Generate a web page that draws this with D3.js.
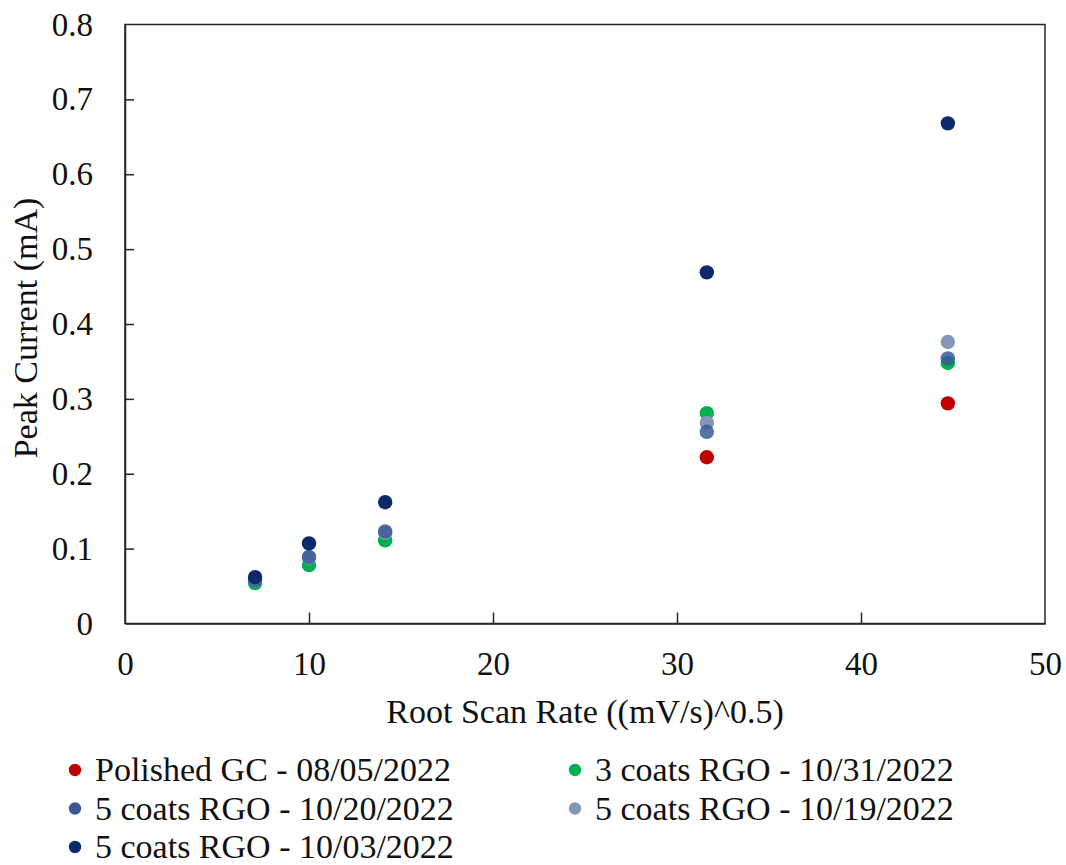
<!DOCTYPE html>
<html>
<head>
<meta charset="utf-8">
<script src="https://cdn.jsdelivr.net/npm/d3@7"></script>
<style>
  html, body { margin: 0; padding: 0; background: #fff; }
  svg { display: block; }
</style>
</head>
<body>
<svg id="chart" width="1066" height="865"></svg>
<script>
// Root scan rate values (sqrt of 50, 100, 200, 1000, 2000 mV/s)
const rootRates = [7.07, 10.0, 14.14, 31.62, 44.72];

// Series names, colours and peak currents (mA); null = not measured
const seriesNames = [
  "Polished GC - 08/05/2022",
  "3 coats RGO - 10/31/2022",
  "5 coats RGO - 10/20/2022",
  "5 coats RGO - 10/19/2022",
  "5 coats RGO - 10/03/2022"
];
const seriesColors = ["#C00000", "#00B050", "#3B5996", "#8497B8", "#0C2A6A"];
const polishedGC   = [null, null, null, 0.222, 0.294];
const coats3_1031  = [0.054, 0.078, 0.111, 0.281, 0.348];
const coats5_1020  = [0.058, 0.089, 0.123, 0.256, 0.354];
const coats5_1019  = [0.058, 0.088, 0.121, 0.268, 0.376];
const coats5_1003  = [0.062, 0.107, 0.162, 0.469, 0.668];
const seriesValues = [polishedGC, coats3_1031, coats5_1020, coats5_1019, coats5_1003];
// drawing order (later series sit on top)
const drawOrder = [0, 1, 3, 2, 4];

const xTicks = [0, 10, 20, 30, 40, 50];
const yTicks = [0, 0.1, 0.2, 0.3, 0.4, 0.5, 0.6, 0.7, 0.8];

const FONT = "'Liberation Serif', 'Times New Roman', serif";
const svg = d3.select("#chart");
const m = { left: 125, right: 1045, top: 24.5, bottom: 623.5 };

const x = d3.scaleLinear().domain([0, 50]).range([m.left, m.right]);
const y = d3.scaleLinear().domain([0, 0.8]).range([m.bottom, m.top]);

// plot frame
svg.append("rect")
  .attr("x", m.left).attr("y", m.top)
  .attr("width", m.right - m.left).attr("height", m.bottom - m.top)
  .attr("fill", "none").attr("stroke", "#262626").attr("stroke-width", 1.5);

// y axis with inward ticks
const yAxis = svg.append("g")
  .attr("transform", `translate(${m.left},0)`)
  .call(d3.axisLeft(y).tickValues(yTicks)
    .tickFormat(d => d === 0 ? "0" : d.toFixed(1))
    .tickSizeInner(-9).tickSizeOuter(0).tickPadding(32));

// x axis with inward ticks
const xAxis = svg.append("g")
  .attr("transform", `translate(0,${m.bottom})`)
  .call(d3.axisBottom(x).tickValues(xTicks)
    .tickFormat(d3.format("d"))
    .tickSizeInner(-11).tickSizeOuter(0).tickPadding(28));

[xAxis, yAxis].forEach(g => {
  g.select(".domain").attr("stroke", "#262626").attr("stroke-width", 1.5);
  g.selectAll(".tick line").attr("stroke", "#262626").attr("stroke-width", 1.5);
  g.selectAll(".tick text")
    .attr("font-family", FONT).attr("font-size", 33).attr("fill", "#111");
});
// no tick marks sitting on the frame corners
xAxis.selectAll(".tick").filter(d => d === 0 || d === 50).select("line").remove();
yAxis.selectAll(".tick").filter(d => d === 0 || d === 0.8).select("line").remove();

// axis titles
svg.append("text")
  .attr("x", (m.left + m.right) / 2).attr("y", 723)
  .attr("text-anchor", "middle")
  .attr("font-family", FONT).attr("font-size", 34).attr("fill", "#111")
  .text("Root Scan Rate ((mV/s)^0.5)");

svg.append("text")
  .attr("transform", `translate(37,${(m.top + m.bottom) / 2 + 4}) rotate(-90)`)
  .attr("text-anchor", "middle")
  .attr("font-family", FONT).attr("font-size", 34).attr("fill", "#111")
  .text("Peak Current (mA)");

// data markers
drawOrder.forEach(si => {
  const pts = rootRates.map((r, i) => ({ r, v: seriesValues[si][i] }))
    .filter(p => p.v !== null);
  svg.append("g").selectAll("circle")
    .data(pts).join("circle")
    .attr("cx", p => x(p.r)).attr("cy", p => y(p.v))
    .attr("r", 7.2)
    .attr("fill", seriesColors[si])
    .attr("fill-opacity", si === 2 ? 0.85 : 1);
});

// legend: two columns, three rows
const legendCols = [75, 575];
const legendRows = [770, 808.5, 847];
const legend = svg.append("g");
seriesNames.forEach((name, i) => {
  const cx = legendCols[i % 2], cy = legendRows[Math.floor(i / 2)];
  legend.append("circle")
    .attr("cx", cx).attr("cy", cy).attr("r", 6.2)
    .attr("fill", seriesColors[i]);
  legend.append("text")
    .attr("x", cx + 20).attr("y", cy + 11)
    .attr("font-family", FONT).attr("font-size", 34).attr("fill", "#111")
    .text(name);
});
</script>
</body>
</html>
